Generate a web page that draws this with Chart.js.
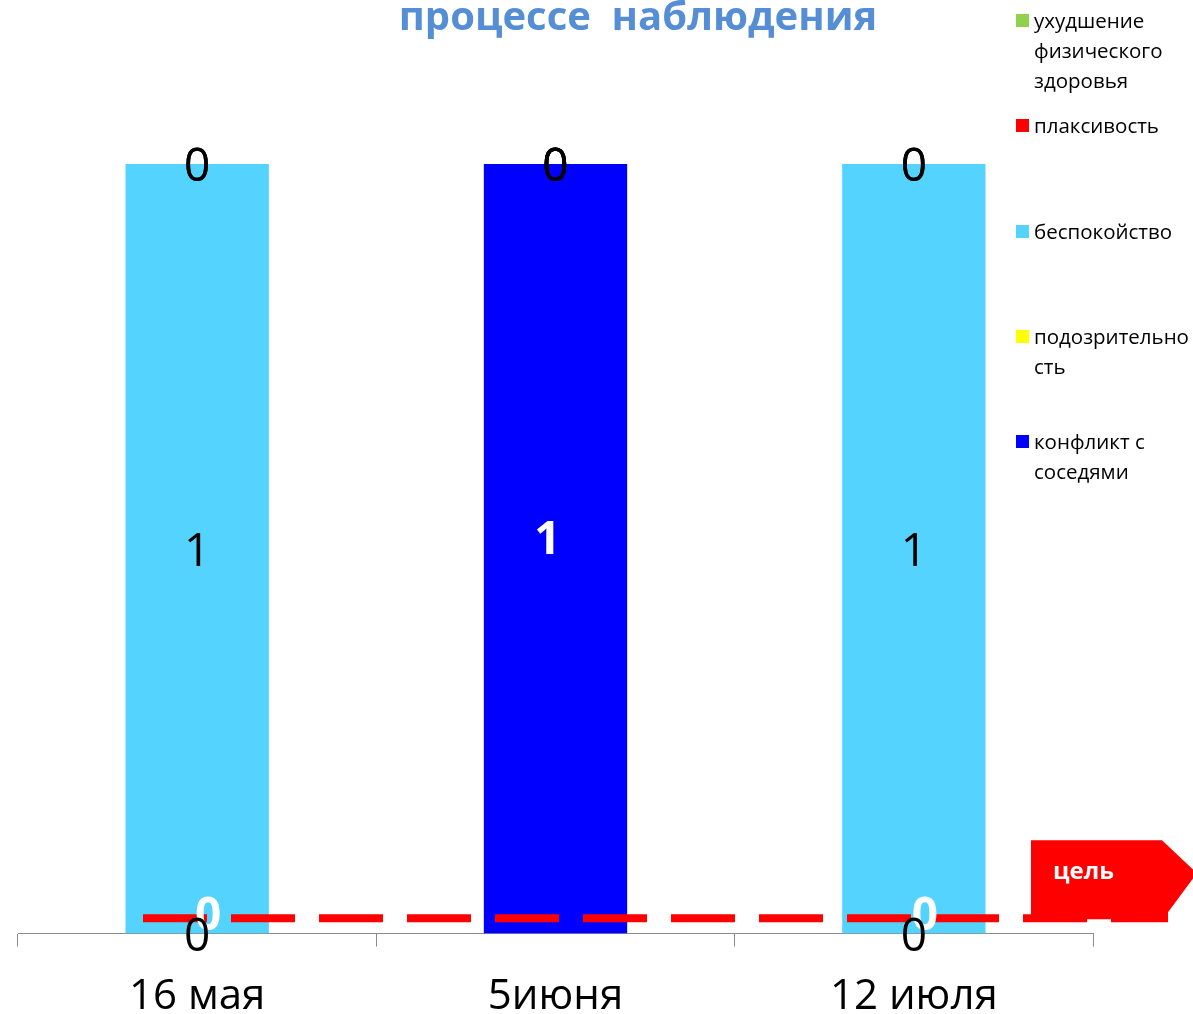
<!DOCTYPE html>
<html>
<head>
<meta charset="utf-8">
<script src="https://cdn.jsdelivr.net/npm/chart.js@4/dist/chart.umd.min.js"></script>
<style>
  html, body { margin: 0; padding: 0; background: #fff; overflow: hidden; }
  #page { position: relative; width: 1193px; height: 1014px; overflow: hidden; }
  #wrap { position: absolute; left: 0; top: 0; width: 1193px; height: 1047px; }
  #title {
    position: absolute; left: 0; width: 1276px; top: -5px; text-align: center;
    font: bold 40px "Open Sans", sans-serif; line-height: 40px; color: #558ED5;
    white-space: pre;
  }
  #legend { position: absolute; left: 1016px; top: 0; width: 177px; }
  .item { position: absolute; left: 0; font: 20.5px "Open Sans", sans-serif; line-height: 30px; color: #000; }
  .item i { position: absolute; left: 0; top: 9px; width: 13px; height: 13px; }
  .item span { display: block; margin-left: 18px; white-space: nowrap; }
</style>
</head>
<body>
<div id="page">
  <div id="wrap"><canvas id="chart"></canvas></div>
  <div id="title">процессе  наблюдения</div>
  <div id="legend"></div>
</div>
<script>
// Data
const categories = ['16 мая', '5июня', '12 июля'];
const conflictValues = [0, 1, 0];      // конфликт с соседями
const suspicionValues = [0, 0, 0];     // подозрительность
const anxietyValues = [1, 0, 1];       // беспокойство
const tearfulnessValues = [0, 0, 0];   // плаксивость
const healthValues = [0, 0, 0];        // ухудшение физического здоровья
const targetValue = 0.02;              // цель
const targetLabel = 'цель';

// Series, bottom of the stack first
const series = [
    { name: ['конфликт с', 'соседями'], data: conflictValues, color: '#0000FF', labelColor: '#fff', bold: true },
    { name: ['подозрительно', 'сть'], data: suspicionValues, color: '#FFFF00', labelColor: '#000' },
    { name: ['беспокойство'], data: anxietyValues, color: '#55D3FF', labelColor: '#000' },
    { name: ['плаксивость'], data: tearfulnessValues, color: '#FF0000', labelColor: '#000' },
    { name: ['ухудшение', 'физического', 'здоровья'], data: healthValues, color: '#92D050', labelColor: '#000' }
];

// Legend (Excel lists stacked series top-down)
const legend = document.getElementById('legend');
series.slice().reverse().forEach((s, i) => {
    const item = document.createElement('div');
    item.className = 'item';
    item.style.top = (5 + i * 105.3) + 'px';
    const sw = document.createElement('i');
    sw.style.background = s.color;
    item.appendChild(sw);
    s.name.forEach(line => {
        const span = document.createElement('span');
        span.textContent = line;
        item.appendChild(span);
    });
    legend.appendChild(item);
});

// Value labels in the middle of each segment
const valueLabels = {
    id: 'valueLabels',
    afterDraw(chart) {
        const ctx = chart.ctx;
        ctx.save();
        ctx.textAlign = 'center';
        ctx.textBaseline = 'middle';
        series.forEach((s, di) => {
            const meta = chart.getDatasetMeta(di);
            meta.data.forEach((bar, i) => {
                const v = s.data[i];
                // the white labels were nudged by hand in the original
                const dx = s.bold ? (v ? -8 : 11) : 0;
                const dy = s.bold ? (v ? -12 : -21) : 0;
                ctx.font = (s.bold ? 'bold ' : '') + '46px "Open Sans"';
                ctx.fillStyle = s.labelColor;
                ctx.fillText(String(v), bar.x + dx, (bar.y + bar.base) / 2 + dy + 4);
            });
        });
        ctx.restore();
    }
};

// Target line with the arrow badge
const targetLine = {
    id: 'targetLine',
    afterDatasetsDraw(chart) {
        const { ctx, chartArea } = chart;
        const y = chart.scales.y.getPixelForValue(targetValue);
        const r = chartArea.right;
        ctx.save();
        // arrow
        ctx.fillStyle = '#FF0000';
        ctx.beginPath();
        ctx.moveTo(r - 62, y - 78);
        ctx.lineTo(r + 69, y - 78);
        ctx.lineTo(r + 104, y - 45);
        ctx.lineTo(r + 75, y - 6);
        ctx.lineTo(r + 75, y + 1);
        ctx.lineTo(r - 62, y + 1);
        ctx.closePath();
        ctx.fill();
        ctx.fillStyle = '#fff';
        ctx.font = 'bold 24px "Open Sans"';
        ctx.textBaseline = 'middle';
        ctx.fillText(targetLabel, r - 40, y - 46);
        // dashed line
        ctx.strokeStyle = '#FF0000';
        ctx.lineWidth = 8;
        ctx.setLineDash([64, 24]);
        ctx.beginPath();
        ctx.moveTo(chartArea.left + 125, y);
        ctx.lineTo(r + 75, y);
        ctx.stroke();
        ctx.restore();
    }
};

const ctx = document.getElementById('chart').getContext('2d');
Chart.defaults.font.family = '"Open Sans", sans-serif';
new Chart(ctx, {
    type: 'bar',
    data: {
        labels: categories,
        datasets: series.map(s => ({
            label: s.name.join(' '),
            data: s.data,
            backgroundColor: s.color,
            borderWidth: 0,
            barPercentage: 0.4,
            categoryPercentage: 1
        }))
    },
    options: {
        responsive: true,
        maintainAspectRatio: false,
        animation: false,
        layout: { padding: { left: 18, right: 100, top: 164, bottom: 0 } },
        plugins: {
            legend: { display: false },
            tooltip: { enabled: false }
        },
        scales: {
            x: {
                stacked: true,
                grid: { offset: true, drawOnChartArea: false, color: '#8C8C8C', tickLength: 13 },
                border: { color: '#8C8C8C', width: 1 },
                ticks: { color: '#000', font: { size: 42 }, padding: 25 }
            },
            y: {
                stacked: true,
                display: false,
                min: 0,
                max: 1
            }
        }
    },
    plugins: [targetLine, valueLabels]
});
</script>
</body>
</html>
